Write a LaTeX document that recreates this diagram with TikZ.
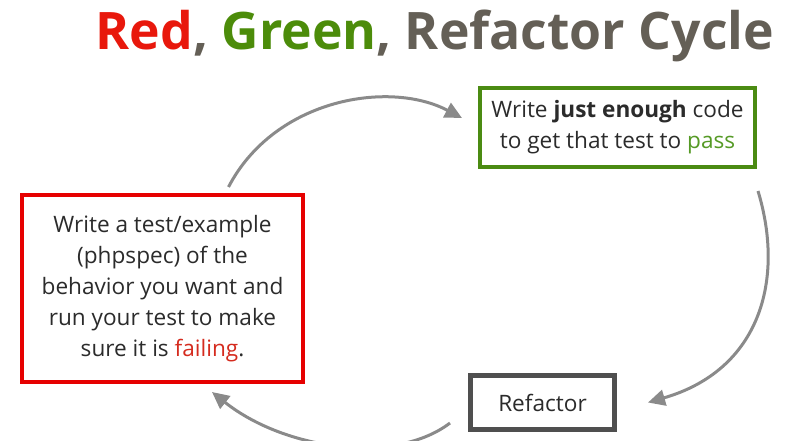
\documentclass[tikz,border=0pt]{standalone}
\usepackage{fontspec}
\setmainfont{Open Sans}
\usetikzlibrary{arrows.meta,calc}

\definecolor{tdred}{HTML}{E8180C}
\definecolor{tdgreen}{HTML}{4C8C0A}
\definecolor{tdgray}{HTML}{645F56}
\definecolor{boxred}{HTML}{E60000}
\definecolor{boxgreen}{HTML}{4B8B12}
\definecolor{boxgray}{HTML}{4F4F4F}
\definecolor{failred}{HTML}{D52B1E}
\definecolor{passgreen}{HTML}{559A25}
\definecolor{bodytext}{HTML}{2B2B2B}
\definecolor{arrowgray}{HTML}{8A8A8A}

\begin{document}
\begin{tikzpicture}[
  x=1pt, y=1pt,
  >={Triangle[length=17pt,width=16pt]},
  font=\fontsize{22.6}{31}\selectfont, text=bodytext,
  testbox/.style={draw=boxred, line width=4pt, fill=white, align=center, minimum width=281pt, minimum height=187pt, inner sep=0pt},
  passbox/.style={draw=boxgreen, line width=4pt, fill=white, align=center, minimum width=275pt, minimum height=79pt, inner sep=0pt},
  refbox/.style={draw=boxgray, line width=5pt, fill=white, align=center, minimum width=144pt, minimum height=54pt, inner sep=0pt},
  flow/.style={->, line width=3pt, arrowgray},
]
  \useasboundingbox (0,0) rectangle (792,440);
  \clip (0,0) rectangle (792,440);
  \node[anchor=base, font=\fontsize{51.7}{52}\selectfont\bfseries, text=tdgray] (title) at (435,390)
    {\textcolor{tdred}{Red}, \textcolor{tdgreen}{Green}, Refactor Cycle};
  \node[testbox] (test) at (162.5,151.5) {Write a test/example\\(phpspec) of the\\behavior you want and\\run your test to make\\sure it is \textcolor{failred}{failing}.};
  \node[passbox] (pass) at (617.5,312.5) {Write \textbf{just enough} code\\to get that test to \textcolor{passgreen}{pass}};
  \node[refbox] (ref) at (542.5,37.5) {Refactor};
  \draw[flow] ([xshift=66pt,yshift=6pt]test.north) .. controls (275,342) and (390,360) .. ([xshift=-16pt,yshift=9.5pt]pass.west);
  \draw[flow] ([xshift=1pt,yshift=-22pt]pass.south east) .. controls (785,160) and (760,70) .. ([xshift=31pt]ref.east);
  \draw[flow] ([xshift=-18pt,yshift=-20.5pt]ref.west) .. controls (395,-25) and (285,-10) .. ([xshift=49.5pt,yshift=-8pt]test.south);
\end{tikzpicture}
\end{document}
